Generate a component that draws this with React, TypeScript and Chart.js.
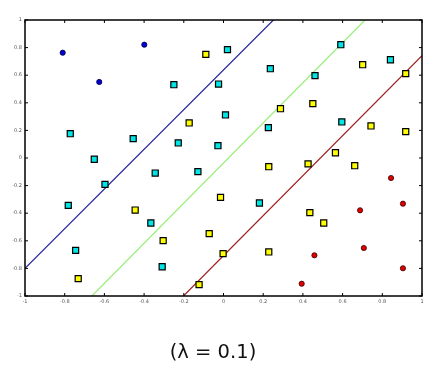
import React, { useEffect, useRef } from "react";
import { Chart, registerables } from "chart.js";

Chart.register(...registerables);

// class 1 (blue circles)
const blueX = [-0.81, -0.626, -0.399];
const blueY = [0.763, 0.551, 0.821];
// class 4 (red circles)
const redX = [0.844, 0.904, 0.688, 0.707, 0.458, 0.904, 0.394];
const redY = [-0.145, -0.331, -0.379, -0.652, -0.705, -0.799, -0.911];
// class 2 (cyan squares)
const cyanX = [-0.25, -0.025, -0.772, -0.455, -0.228, -0.028, -0.651, 0.02, 0.236, 0.461, 0.591, 0.841, 0.01, 0.226, 0.596, -0.597, -0.782, -0.344, -0.129, -0.366, -0.745, -0.309, 0.181];
const cyanY = [0.531, 0.536, 0.176, 0.14, 0.109, 0.089, -0.009, 0.785, 0.647, 0.597, 0.821, 0.712, 0.312, 0.22, 0.261, -0.191, -0.343, -0.109, -0.099, -0.471, -0.669, -0.788, -0.326];
// class 3 (yellow squares)
const yellowX = [-0.089, -0.173, 0.701, 0.918, 0.287, 0.45, 0.743, 0.918, 0.564, -0.445, -0.015, -0.304, -0.072, -0.732, -0.123, 0.228, 0.426, 0.661, 0.435, 0.505, -0.002, 0.228];
const yellowY = [0.751, 0.254, 0.676, 0.611, 0.357, 0.394, 0.232, 0.191, 0.038, -0.377, -0.285, -0.599, -0.548, -0.874, -0.918, -0.063, -0.043, -0.056, -0.396, -0.471, -0.693, -0.681];
// separating lines (endpoints)
const blueLineX = [-1, 0.2515];
const blueLineY = [-0.8, 1];
const greenLineX = [-0.663, 0.713];
const greenLineY = [-1, 1];
const redLineX = [-0.2016, 1];
const redLineY = [-1, 0.741];

const tickValues = [-1, -0.8, -0.6, -0.4, -0.2, 0, 0.2, 0.4, 0.6, 0.8, 1];
const caption = "(\u03bb = 0.1)";

const pts = (xs: number[], ys: number[]) => xs.map((x, i) => ({ x, y: ys[i] }));

const frame = {
  id: "frame",
  afterDatasetsDraw(chart: any) {
    const { ctx, chartArea: a, scales } = chart;
    ctx.save();
    ctx.strokeStyle = "#000";
    ctx.lineWidth = 1.5;
    ctx.strokeRect(a.left, a.top, a.right - a.left, a.bottom - a.top);
    ctx.lineWidth = 1;
    const L = 3;
    tickValues.forEach((v) => {
      const px = scales.x.getPixelForValue(v);
      const py = scales.y.getPixelForValue(v);
      ctx.beginPath();
      ctx.moveTo(px, a.bottom);
      ctx.lineTo(px, a.bottom - L);
      ctx.moveTo(px, a.top);
      ctx.lineTo(px, a.top + L);
      ctx.moveTo(a.left, py);
      ctx.lineTo(a.left + L, py);
      ctx.moveTo(a.right, py);
      ctx.lineTo(a.right - L, py);
      ctx.stroke();
    });
    ctx.restore();
  },
};

export default function App() {
  const ref = useRef<HTMLCanvasElement>(null);
  useEffect(() => {
    const fmt = (v: any) => Number(Number(v).toFixed(1)).toString();
    const lineDs = (xs: number[], ys: number[], color: string) => ({
      type: "line" as const,
      data: pts(xs, ys),
      borderColor: color,
      backgroundColor: color,
      borderWidth: 1.2,
      pointRadius: 0,
      showLine: true,
      fill: false,
      order: 2,
    });
    const chart = new Chart(ref.current!, {
      type: "scatter",
      data: {
        datasets: [
          lineDs(blueLineX, blueLineY, "#2323a0"),
          lineDs(greenLineX, greenLineY, "#98ee78"),
          lineDs(redLineX, redLineY, "#9c1c1c"),
          {
            data: pts(cyanX, cyanY),
            pointStyle: "rect",
            pointRadius: 4.3,
            backgroundColor: "#00e6e6",
            borderColor: "#000",
            borderWidth: 1.2,
            order: 1,
          },
          {
            data: pts(yellowX, yellowY),
            pointStyle: "rect",
            pointRadius: 4.3,
            backgroundColor: "#ffff00",
            borderColor: "#000",
            borderWidth: 1.2,
            order: 1,
          },
          {
            data: pts(blueX, blueY),
            pointStyle: "circle",
            pointRadius: 2.6,
            backgroundColor: "#0000dd",
            borderColor: "#000033",
            borderWidth: 0.8,
            order: 1,
          },
          {
            data: pts(redX, redY),
            pointStyle: "circle",
            pointRadius: 2.6,
            backgroundColor: "#e00000",
            borderColor: "#330000",
            borderWidth: 0.8,
            order: 1,
          },
        ],
      },
      options: {
        animation: false,
        responsive: false,
        devicePixelRatio: 1,
        layout: { padding: { left: 0, top: 20, right: 15, bottom: 0 } },
        plugins: { legend: { display: false }, tooltip: { enabled: false }, title: { display: false } },
        scales: {
          x: {
            type: "linear",
            min: -1,
            max: 1,
            afterBuildTicks: (s: any) => {
              s.ticks = tickValues.map((v) => ({ value: v }));
            },
            afterFit: (s: any) => {
              s.height = 77;
            },
            grid: { display: false, drawTicks: false },
            border: { display: false },
            ticks: {
              callback: fmt,
              font: { size: 5, family: "DejaVu Sans" },
              color: "#555",
              padding: 3,
              maxRotation: 0,
              autoSkip: false,
            },
          },
          y: {
            type: "linear",
            min: -1,
            max: 1,
            afterBuildTicks: (s: any) => {
              s.ticks = tickValues.map((v) => ({ value: v }));
            },
            afterFit: (s: any) => {
              s.width = 25;
            },
            grid: { display: false, drawTicks: false },
            border: { display: false },
            ticks: {
              callback: fmt,
              font: { size: 5, family: "DejaVu Sans" },
              color: "#555",
              padding: 3,
              autoSkip: false,
            },
          },
        },
      },
      plugins: [frame],
    } as any);
    return () => chart.destroy();
  }, []);
  return (
    <div style={{ position: "absolute", left: 0, top: 0, width: 437, height: 373, background: "#fff" }}>
      <canvas ref={ref} width={437} height={373} style={{ display: "block" }} />
      <div
        style={{
          position: "absolute",
          left: 0,
          width: 426,
          top: 340,
          textAlign: "center",
          fontFamily: "DejaVu Sans",
          fontSize: 19.5,
          color: "#111",
        }}
      >
        {caption}
      </div>
    </div>
  );
}
